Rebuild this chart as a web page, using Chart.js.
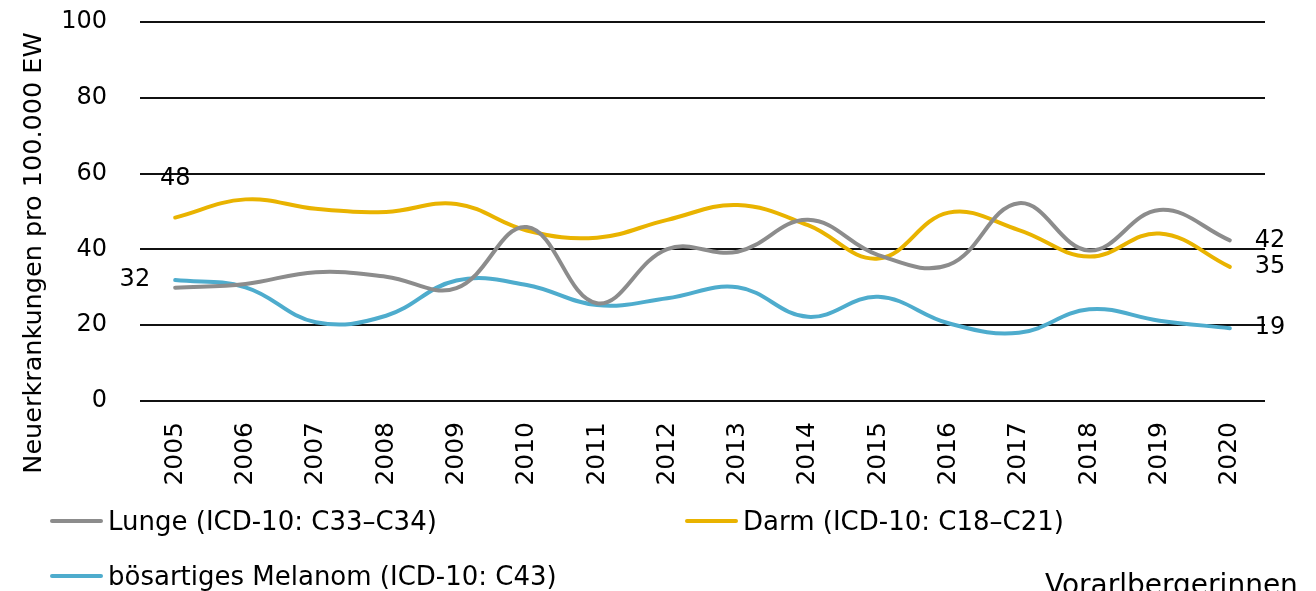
<!DOCTYPE html>
<html>
<head>
<meta charset="utf-8">
<script src="https://cdn.jsdelivr.net/npm/chart.js@4"></script>
<style>
    body { margin: 0; background: #fff; }
    #wrap { position: relative; width: 1316px; height: 591px; overflow: hidden; font-family: 'DejaVu Sans', sans-serif; color: #000; }
    #ytitle { position: absolute; left: -218px; top: 238px; width: 500px; height: 30px; line-height: 30px; text-align: center; font-size: 25.5px; transform: rotate(-90deg); white-space: nowrap; }
    .leg { position: absolute; display: flex; align-items: center; font-size: 26px; white-space: nowrap; }
    .leg span.line { display: inline-block; width: 53px; height: 4px; margin-right: 5px; border-radius: 2px; }
    #note { position: absolute; left: 1045px; top: 568px; font-size: 28px; white-space: nowrap; }
</style>
</head>
<body>
<div id="wrap">
    <canvas id="LineChart" width="1316" height="591"></canvas>
    <div id="ytitle">Neuerkrankungen pro 100.000 EW</div>
    <div id="legend"></div>
    <div id="note">Vorarlbergerinnen</div>
</div>
<script>
// data
var years = ['2005', '2006', '2007', '2008', '2009', '2010', '2011', '2012',
             '2013', '2014', '2015', '2016', '2017', '2018', '2019', '2020'];
var lunge = [29.9, 30.9, 34, 32.8, 29.8, 45.9, 25.8, 40.1, 39.4, 47.8, 38.5, 35.9, 52.2, 39.7, 50.4, 42.4];
var darm = [48.4, 53.2, 50.7, 49.9, 52, 45, 43.1, 47.8, 51.7, 46.4, 37.6, 49.7, 45.1, 38.1, 44.2, 35.4];
var melanom = [31.9, 30, 20.8, 22.5, 31.8, 30.6, 25.3, 27.1, 30, 22.2, 27.5, 20.5, 18, 24.2, 21.2, 19.2];
var seriesNames = ['Lunge (ICD-10: C33–C34)', 'Darm (ICD-10: C18–C21)', 'bösartiges Melanom (ICD-10: C43)'];
var yTicks = [0, 20, 40, 60, 80, 100];

var colors = ['#8c8c8c', '#e9b300', '#4eaccd'];
var font = { family: 'DejaVu Sans', size: 24 };

// which points get a value label: dataset index, point index, side
var pointLabels = [
    { ds: 1, i: 0, side: 'top' },
    { ds: 2, i: 0, side: 'left' },
    { ds: 0, i: 15, side: 'right' },
    { ds: 1, i: 15, side: 'right' },
    { ds: 2, i: 15, side: 'right' }
];

var valueLabelPlugin = {
    id: 'valueLabels',
    afterDatasetsDraw: function(chart) {
        var ctx = chart.ctx;
        ctx.save();
        ctx.font = font.size + 'px ' + font.family;
        ctx.fillStyle = '#000';
        ctx.textBaseline = 'middle';
        pointLabels.forEach(function(l) {
            var pt = chart.getDatasetMeta(l.ds).data[l.i];
            var txt = String(Math.round(chart.data.datasets[l.ds].data[l.i]));
            if (l.side === 'top') {
                ctx.textAlign = 'center';
                ctx.fillText(txt, pt.x, pt.y - 39);
            } else if (l.side === 'left') {
                ctx.textAlign = 'right';
                ctx.fillText(txt, pt.x - 25, pt.y);
            } else {
                ctx.textAlign = 'left';
                ctx.fillText(txt, pt.x + 25, pt.y);
            }
        });
        ctx.restore();
    }
};

var ctx = document.getElementById('LineChart').getContext('2d');
var myLineChart = new Chart(ctx, {
    type: 'line',
    data: {
        labels: years,
        datasets: [{
            label: seriesNames[0],
            data: lunge,
            borderColor: colors[0]
        }, {
            label: seriesNames[1],
            data: darm,
            borderColor: colors[1]
        }, {
            label: seriesNames[2],
            data: melanom,
            borderColor: colors[2]
        }]
    },
    options: {
        responsive: false,
        animation: false,
        layout: { padding: { top: 22, right: 51, left: 0, bottom: 0 } },
        elements: {
            point: { radius: 0 },
            line: { tension: 0.4, borderWidth: 4, borderCapStyle: 'round', fill: false }
        },
        plugins: {
            legend: { display: false },
            tooltip: { enabled: false }
        },
        scales: {
            x: {
                offset: true,
                grid: { display: false },
                border: { display: false },
                ticks: { minRotation: 90, maxRotation: 90, padding: 13, color: '#000', font: { family: 'DejaVu Sans', size: 25 } },
                afterFit: function(s) {
                    s.height = 190;
                    s.paddingTop = 0; s.paddingBottom = 0; s.paddingLeft = 0; s.paddingRight = 0;
                }
            },
            y: {
                min: yTicks[0],
                max: yTicks[yTicks.length - 1],
                afterBuildTicks: function(s) {
                    s.ticks = yTicks.map(function(v) { return { value: v }; });
                },
                ticks: { padding: 33, color: '#000', font: font },
                grid: { color: '#111', lineWidth: 2, drawTicks: false },
                border: { display: false },
                afterFit: function(s) {
                    s.width = 140;
                    s.paddingTop = 0; s.paddingBottom = 0;
                }
            }
        }
    },
    plugins: [valueLabelPlugin]
});

// legend laid out like the original: two on the first row, one below
var legendPos = [[50, 506], [685, 506], [50, 561]];
var legendBox = document.getElementById('legend');
seriesNames.forEach(function(name, k) {
    var item = document.createElement('div');
    item.className = 'leg';
    item.style.left = legendPos[k][0] + 'px';
    item.style.top = legendPos[k][1] + 'px';
    item.innerHTML = '<span class="line" style="background:' + colors[k] + '"></span>' + name;
    legendBox.appendChild(item);
});
</script>
</body>
</html>
